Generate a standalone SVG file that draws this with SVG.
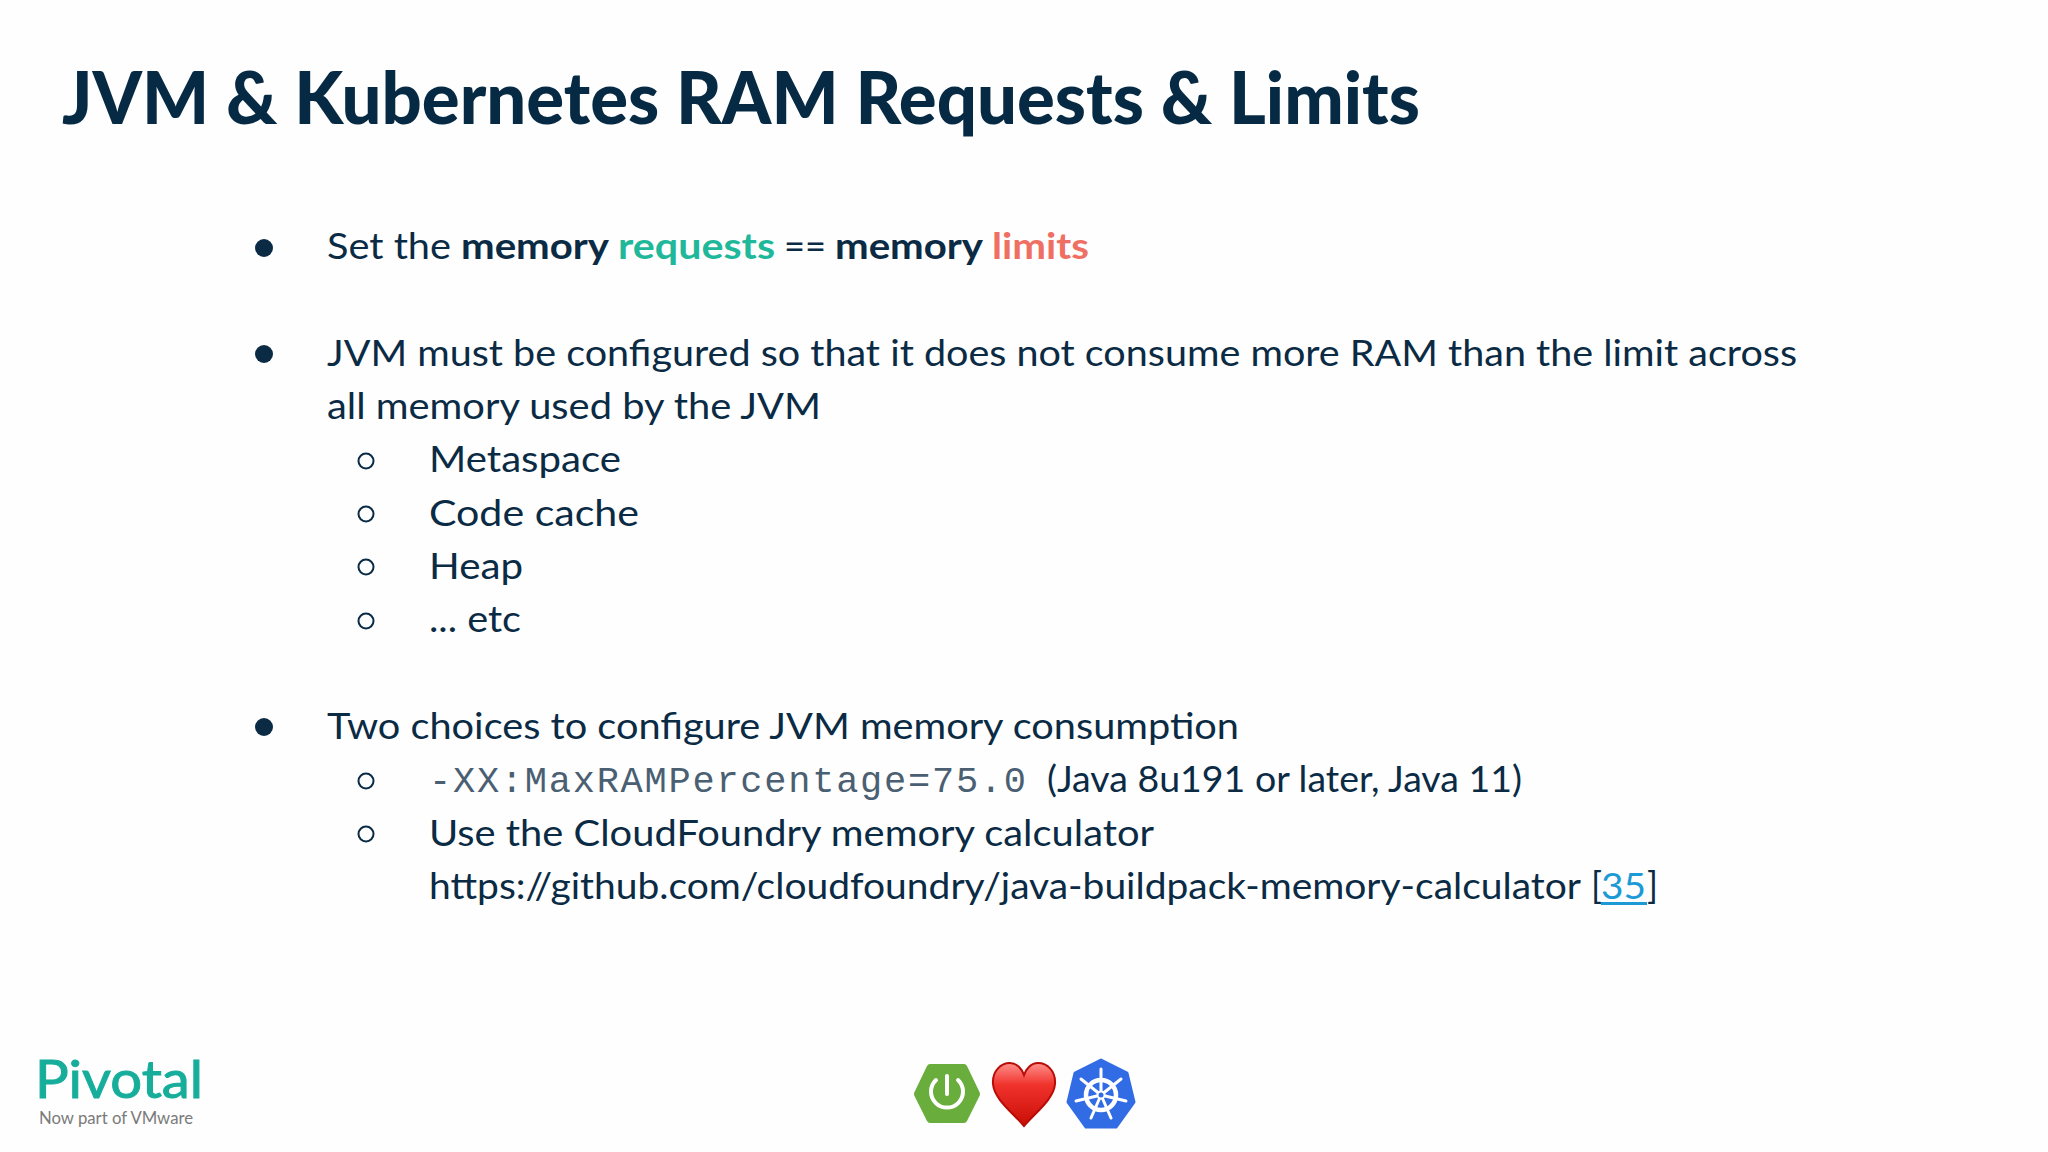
<svg xmlns="http://www.w3.org/2000/svg" width="2048" height="1152" viewBox="0 0 2048 1152">
<defs>
<style>
text{font-family:"Lato","Open Sans",sans-serif;fill:#0b2b45;white-space:pre}
.t{font-size:36px}
.b{font-weight:700}
.title{font-size:72px;font-weight:900;fill:#072a44}
.m{font-family:"Liberation Mono",monospace;font-size:37px;fill:#4a6072}
.dot{fill:#0b2b45}
.ring{fill:none;stroke:#0b2b45;stroke-width:2}
</style>
<linearGradient id="h" x1="0" y1="0" x2="0" y2="1"><stop offset="0" stop-color="#ff8f8a"/><stop offset=".35" stop-color="#f0322c"/><stop offset="1" stop-color="#c90d05"/></linearGradient>
</defs>
<rect width="2048" height="1152" fill="#fefefe"/>
<g id="title"><text class="title" x="62" y="124" textLength="1358" lengthAdjust="spacingAndGlyphs">JVM &amp; Kubernetes RAM Requests &amp; Limits</text></g>
<g id="body">
<circle class="dot" cx="264" cy="248" r="9"/>
<text class="t" x="327" y="259" textLength="124" lengthAdjust="spacingAndGlyphs">Set the</text>
<text class="t b" x="461" y="259" textLength="148" lengthAdjust="spacingAndGlyphs">memory</text>
<text class="t b" x="618" y="259" textLength="157" lengthAdjust="spacingAndGlyphs" style="fill:#1fb89a">requests</text>
<text class="t" x="784" y="259" textLength="42" lengthAdjust="spacingAndGlyphs">==</text>
<text class="t b" x="835" y="259" textLength="148" lengthAdjust="spacingAndGlyphs">memory</text>
<text class="t b" x="992" y="259" textLength="97" lengthAdjust="spacingAndGlyphs" style="fill:#ef6f63">limits</text>
<circle class="dot" cx="264" cy="354" r="9"/>
<text class="t" x="327" y="366" textLength="1470" lengthAdjust="spacingAndGlyphs">JVM must be configured so that it does not consume more RAM than the limit across</text>
<text class="t" x="327" y="419" textLength="494" lengthAdjust="spacingAndGlyphs">all memory used by the JVM</text>
<circle class="ring" cx="366" cy="461" r="7.5"/>
<text class="t" x="429" y="472" textLength="192" lengthAdjust="spacingAndGlyphs">Metaspace</text>
<circle class="ring" cx="366" cy="514" r="7.5"/>
<text class="t" x="429" y="526" textLength="210" lengthAdjust="spacingAndGlyphs">Code cache</text>
<circle class="ring" cx="366" cy="567" r="7.5"/>
<text class="t" x="429" y="579" textLength="94" lengthAdjust="spacingAndGlyphs">Heap</text>
<circle class="ring" cx="366" cy="621" r="7.5"/>
<text class="t" x="429" y="632" textLength="92" lengthAdjust="spacingAndGlyphs">... etc</text>
<circle class="dot" cx="264" cy="727" r="9"/>
<text class="t" x="327" y="739" textLength="912" lengthAdjust="spacingAndGlyphs">Two choices to configure JVM memory consumption</text>
<circle class="ring" cx="366" cy="781" r="7.5"/>
<text class="m" x="429" y="792" textLength="597">-XX:MaxRAMPercentage=75.0</text>
<text class="t" x="1047" y="792" textLength="475" lengthAdjust="spacingAndGlyphs">(Java 8u191 or later, Java 11)</text>
<circle class="ring" cx="366" cy="834" r="7.5"/>
<text class="t" x="429" y="846" textLength="725" lengthAdjust="spacingAndGlyphs">Use the CloudFoundry memory calculator</text>
<text class="t" x="429" y="899" textLength="1152" lengthAdjust="spacingAndGlyphs">https://github.com/cloudfoundry/java-buildpack-memory-calculator</text>
<text class="t" x="1591" y="899" textLength="11">[</text>
<text class="t" x="1601" y="899" textLength="45" lengthAdjust="spacingAndGlyphs" style="fill:#1b9ad6">35</text>
<rect x="1601" y="902" width="46" height="3" fill="#1b9ad6"/>
<text class="t" x="1647" y="899" textLength="11">]</text>
</g>
<g id="logo">
<text x="35" y="1098" font-size="53" textLength="168" lengthAdjust="spacingAndGlyphs" style="fill:#17ad9b;stroke:#17ad9b;stroke-width:1">Pivotal</text>
<text x="39" y="1124" font-size="16.5" textLength="154" lengthAdjust="spacingAndGlyphs" style="fill:#7a7a7a">Now part of VMware</text>
</g>
<g id="spring">
<path d="M930 1064H964Q966 1064 967 1066L979 1091Q981 1094 979 1097L967 1121Q966 1123 964 1123H930Q928 1123 927 1121L915 1097Q913 1094 915 1091L927 1066Q928 1064 930 1064Z" fill="#69ad3c"/>
<path d="M936 1080A16 16 0 1 0 958 1080" fill="none" stroke="#fff" stroke-width="4" stroke-linecap="round"/>
<path d="M947 1076V1094" stroke="#fff" stroke-width="4" stroke-linecap="round"/>
</g>
<g id="heart">
<path d="M1024 1126C1013 1113 994 1099 993 1084C992 1071 1001 1063 1010 1063C1017 1063 1022 1069 1024 1075C1026 1069 1031 1063 1038 1063C1047 1063 1056 1071 1055 1084C1054 1099 1035 1113 1024 1126Z" fill="url(#h)" stroke="#b70d06" stroke-width="2"/>
</g>
<g id="k8s">
<path d="M1101 1060L1127 1073L1134 1102L1116 1127H1086L1068 1102L1075 1073Z" fill="#326ce5" stroke="#326ce5" stroke-width="3" stroke-linejoin="round"/>
<g fill="none" stroke="#fff" stroke-linecap="round">
<circle cx="1101" cy="1095" r="15" stroke-width="4.5"/>
<path d="M1101 1069V1095M1081 1079L1101 1095M1121 1079L1101 1095M1076 1101L1101 1095M1126 1101L1101 1095M1091 1118L1101 1095M1111 1118L1101 1095" stroke-width="3"/>
</g>
<circle cx="1101" cy="1095" r="4.5" fill="#fff"/>
<circle cx="1101" cy="1095" r="2.5" fill="#326ce5"/>
</g>
</svg>
